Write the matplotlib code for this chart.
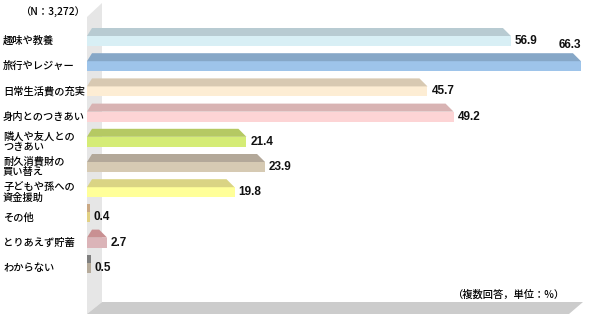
import matplotlib
matplotlib.use("Agg")
import matplotlib.pyplot as plt
from matplotlib.patches import Polygon

# ---- data ----
categories = ["趣味や教養", "旅行やレジャー", "日常生活費の充実", "身内とのつきあい",
              "隣人や友人との\nつきあい", "耐久消費財の\n買い替え", "子どもや孫への\n資金援助",
              "その他", "とりあえず貯蓄", "わからない"]
values = [56.9, 66.3, 45.7, 49.2, 21.4, 23.9, 19.8, 0.4, 2.7, 0.5]
front_colors = ["#d8eff5", "#9ec4ea", "#fdedd4", "#fdd4d5", "#d5ec76",
                "#d6cab3", "#ffff99", "#e2d184", "#dbb4b8", "#b6ab9b"]
top_colors = ["#b8cbd2", "#86a7c7", "#d8c9b2", "#d8b3b3", "#b5c963",
              "#b3a899", "#dad484", "#caa883", "#c99092", "#7f7f7f"]
note_top = "（N：3,272）"
note_bottom = "（複数回答，単位：%）"

# ---- layout (pixel geometry helpers) ----
W, H, DPI = 590, 320, 100
X0PX = 87.0          # pixel of value 0
PPU = 7.45           # pixels per value unit
ROW0PX = 41.0        # pixel y of first row centre
PITCH = 25.2         # pixels per row

def dx(px):
    return px / PPU

def dy(px):
    return px / PITCH

def xd(px):  # absolute pixel x -> data
    return (px - X0PX) / PPU

def yd(px):  # absolute pixel y -> data
    return (px - ROW0PX) / PITCH

fig = plt.figure(figsize=(W / DPI, H / DPI), dpi=DPI)
ax = fig.add_axes([0, 0, 1, 1])
ax.set_xlim(xd(0), xd(W))
ax.set_ylim(yd(H), yd(0))
ax.axis("off")

jp = ["Noto Sans CJK JP", "DejaVu Sans"]
num = ["Liberation Sans Narrow", "Liberation Sans", "DejaVu Sans"]

# wall and floor
wall = Polygon([(xd(87), yd(17)), (xd(102), yd(3)), (xd(102), yd(302)), (xd(87), yd(314))],
               closed=True, facecolor="#e6e6e6", edgecolor="none", zorder=1)
floor = Polygon([(xd(87), yd(314)), (xd(102), yd(302)), (xd(583), yd(302)), (xd(569), yd(314))],
                closed=True, facecolor="#cccccc", edgecolor="none", zorder=1)
ax.add_patch(wall)
ax.add_patch(floor)

front_h = dy(10)
top_h = dy(8)
vmax = max(values)
for i, (cat, v, fc, tc) in enumerate(zip(categories, values, front_colors, top_colors)):
    ax.barh(i, v, height=front_h, left=0, color=fc, edgecolor="none", zorder=3)
    y_b = i - front_h / 2
    y_t = y_b - top_h
    if v * PPU > 14:
        li, ri = dx(5), dx(8)
    else:
        li, ri = 0, 0
    top = Polygon([(0, y_b), (v, y_b), (v - ri, y_t), (li, y_t)], closed=True,
                  facecolor=tc, edgecolor="none", zorder=3)
    ax.add_patch(top)
    ax.text(xd(3), i, cat, ha="left", va="center", fontsize=7.4, fontweight="medium",
            family=jp, linespacing=1.05, color="#000000", zorder=4)
    if v == vmax:
        ax.text(v, y_t - dy(2), f"{v:.1f}", ha="right", va="bottom", fontsize=8.5,
                fontweight="bold", family=num, color="#111111", zorder=4)
    else:
        ax.text(v + dx(4), i, f"{v:.1f}", ha="left", va="center", fontsize=8.5,
                fontweight="bold", family=num, color="#111111", zorder=4)

ax.text(xd(85), yd(12), note_top, ha="right", va="center", fontsize=7.4,
        fontweight="medium", family=jp, color="#000000")
ax.text(xd(564), yd(295), note_bottom, ha="right", va="center", fontsize=7.4,
        fontweight="medium", family=jp, color="#000000")

fig.savefig("out.png", dpi=DPI)
